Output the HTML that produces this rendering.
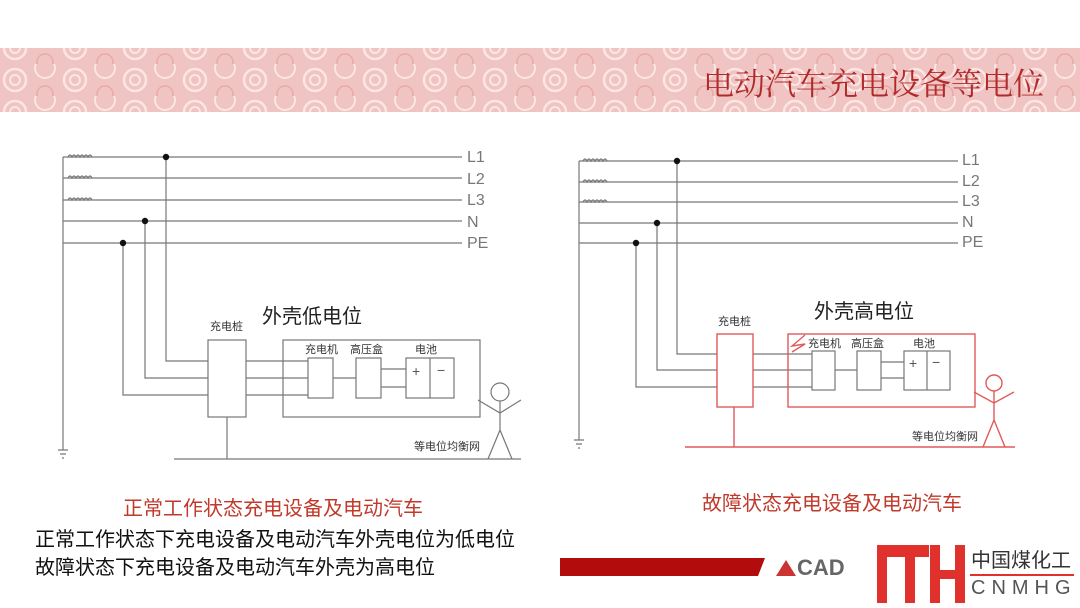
<!DOCTYPE html>
<html><head><meta charset="utf-8"><style>
body{margin:0;width:1080px;height:608px;background:#fff;overflow:hidden;position:relative;font-family:"Liberation Sans","Noto Sans CJK SC",sans-serif}
.t{position:absolute;white-space:nowrap}
</style></head><body>
<svg width="1080" height="608" style="position:absolute;left:0;top:0">
<defs>
<pattern id="sw" width="60" height="32" patternUnits="userSpaceOnUse">
<rect width="60" height="32" fill="#f0c4c2"/>
<circle cx="15" cy="16" r="11" fill="none" stroke="#fbe6e4" stroke-width="2.5"/>
<circle cx="15" cy="16" r="5" fill="none" stroke="#fbe6e4" stroke-width="2"/>
<circle cx="45" cy="4" r="10" fill="none" stroke="#fbe6e4" stroke-width="2"/>
<circle cx="45" cy="30" r="8" fill="none" stroke="#e8aaa8" stroke-width="1.5"/>
</pattern>
</defs>
<rect x="0" y="48" width="1080" height="64" fill="url(#sw)"/>
<g stroke="#777" stroke-width="1.2" fill="none">
<path d="M63 157H462M63 178H462M63 200H462M63 221H462M63 243H462M63 157V450"/>
<path d="M58 450H68M60 454H66M62 458H64"/>
<path d="M68 157q2-4 4 0q2-4 4 0q2-4 4 0q2-4 4 0q2-4 4 0q2-4 4 0M68 178q2-4 4 0q2-4 4 0q2-4 4 0q2-4 4 0q2-4 4 0q2-4 4 0M68 200q2-4 4 0q2-4 4 0q2-4 4 0q2-4 4 0q2-4 4 0q2-4 4 0"/>
<path d="M166 157V361H208M145 221V378H208M123 243V395H208"/>
<rect x="208" y="340" width="38" height="77"/>
<path d="M227 417V459M174 459H521"/>
<path d="M246 361H308M246 378H308M246 395H308"/>
<rect x="283" y="340" width="197" height="77"/>
<rect x="308" y="358" width="25" height="40"/>
<rect x="356" y="358" width="25" height="40"/>
<rect x="406" y="358" width="48" height="40"/><path d="M430 358V398"/>
<path d="M333 378H356M381 369H406M381 387H406"/>
<circle cx="500" cy="392" r="9"/>
<path d="M500 401V430M478 400L500 413L521 400M488 459L500 430L512 459"/>
<path d="M579 161H958M579 182H958M579 202H958M579 223H958M579 243H958M579 161V440"/>
<path d="M574 440H584M576 444H582M578 448H580"/>
<path d="M583 161q2-4 4 0q2-4 4 0q2-4 4 0q2-4 4 0q2-4 4 0q2-4 4 0M583 182q2-4 4 0q2-4 4 0q2-4 4 0q2-4 4 0q2-4 4 0q2-4 4 0M583 202q2-4 4 0q2-4 4 0q2-4 4 0q2-4 4 0q2-4 4 0q2-4 4 0"/>
<path d="M677 161V354H717M657 223V370H717M636 243V387H717"/>
<path d="M753 354H812M753 370H812M753 387H812"/>
<rect x="812" y="351" width="23" height="39"/>
<rect x="857" y="351" width="24" height="39"/>
<rect x="904" y="351" width="46" height="39"/><path d="M927 351V390"/>
<path d="M835 370H857M881 362H904M881 378H904"/>
</g>
<g fill="#111"><circle cx="166" cy="157" r="3.2"/><circle cx="145" cy="221" r="3.2"/><circle cx="123" cy="243" r="3.2"/>
<circle cx="677" cy="161" r="3.2"/><circle cx="657" cy="223" r="3.2"/><circle cx="636" cy="243" r="3.2"/></g>
<g stroke="#e05a5a" stroke-width="1.4" fill="none">
<rect x="717" y="334" width="36" height="73"/>
<rect x="788" y="334" width="187" height="73"/>
<path d="M734 407V447M685 447H1015"/>
<path d="M805 335L792 346L805 344L792 352"/>
<circle cx="994" cy="383" r="8"/>
<path d="M994 391V420M974 392L994 403L1014 392M983 447L994 420L1005 447"/>
</g>
<path d="M560 558H765L758 576H560Z" fill="#b30c0c"/>
<path d="M776 576L786 560L796 576Z" fill="#c33"/>
<g fill="#e0312c">
<rect x="877" y="545" width="52" height="12"/><rect x="877" y="545" width="10" height="58"/>
<rect x="905" y="545" width="10" height="58"/>
<rect x="930" y="545" width="10" height="58"/><rect x="955" y="545" width="10" height="58"/><rect x="930" y="570" width="35" height="9"/>
<rect x="970" y="574" width="104" height="2"/>
</g>
</svg>
<div class="t" style="left:703px;top:59px;font-size:31px;color:#b02a2a;font-family:'Liberation Serif','Noto Serif CJK SC',serif">电动汽车充电设备等电位</div>
<div class="t" style="left:467px;top:147px;font-size:16px;color:#777;line-height:21.5px">L1<br>L2<br>L3<br>N<br>PE</div>
<div class="t" style="left:962px;top:151px;font-size:16px;color:#777;line-height:20.6px">L1<br>L2<br>L3<br>N<br>PE</div>
<div class="t" style="left:262px;top:300px;font-size:20px;color:#222">外壳低电位</div>
<div class="t" style="left:814px;top:295px;font-size:20px;color:#222">外壳高电位</div>
<div class="t" style="left:210px;top:318px;font-size:11px;color:#333">充电桩</div>
<div class="t" style="left:718px;top:313px;font-size:11px;color:#333">充电桩</div>
<div class="t" style="left:305px;top:341px;font-size:11px;color:#333">充电机</div>
<div class="t" style="left:350px;top:341px;font-size:11px;color:#333">高压盒</div>
<div class="t" style="left:415px;top:341px;font-size:11px;color:#333">电池</div>
<div class="t" style="left:808px;top:335px;font-size:11px;color:#333">充电机</div>
<div class="t" style="left:851px;top:335px;font-size:11px;color:#333">高压盒</div>
<div class="t" style="left:913px;top:335px;font-size:11px;color:#333">电池</div>
<div class="t" style="left:412px;top:363px;font-size:14px;color:#555">+</div>
<div class="t" style="left:437px;top:362px;font-size:14px;color:#555">−</div>
<div class="t" style="left:909px;top:355px;font-size:14px;color:#555">+</div>
<div class="t" style="left:932px;top:354px;font-size:14px;color:#555">−</div>
<div class="t" style="left:414px;top:438px;font-size:11px;color:#333">等电位均衡网</div>
<div class="t" style="left:912px;top:428px;font-size:11px;color:#333">等电位均衡网</div>
<div class="t" style="left:123px;top:492px;font-size:20px;color:#c0392b">正常工作状态充电设备及电动汽车</div>
<div class="t" style="left:702px;top:487px;font-size:20px;color:#c0392b">故障状态充电设备及电动汽车</div>
<div class="t" style="left:35px;top:526px;font-size:20px;color:#111;line-height:28px">正常工作状态下充电设备及电动汽车外壳电位为低电位<br>故障状态下充电设备及电动汽车外壳为高电位</div>
<div class="t" style="left:797px;top:555px;font-size:22px;font-weight:bold;color:#666">CAD</div>
<div class="t" style="left:971px;top:544px;font-size:20px;color:#333">中国煤化工</div>
<div class="t" style="left:971px;top:577px;font-size:20px;color:#555;letter-spacing:6px">CNMHG</div>
</body></html>
